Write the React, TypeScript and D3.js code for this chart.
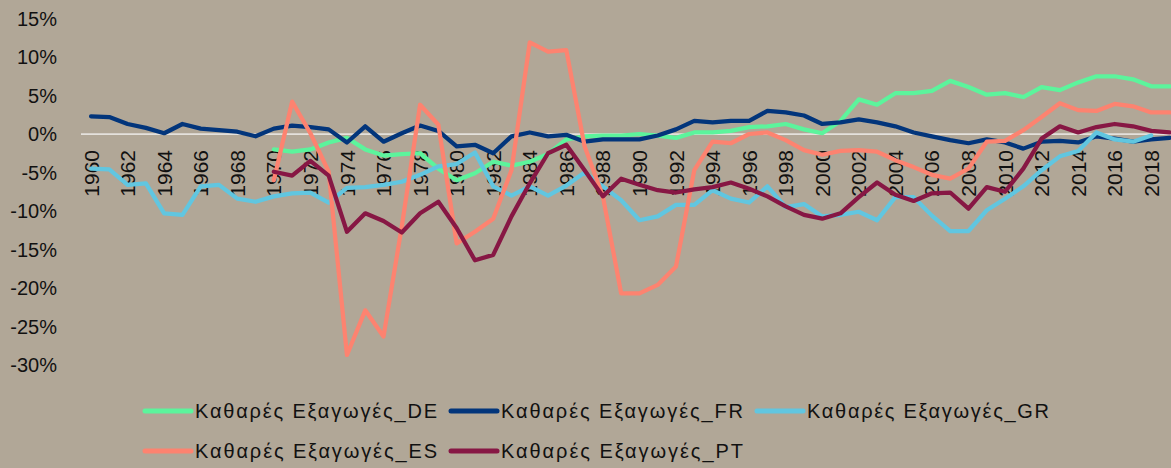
import * as d3 from 'd3';

// categories
const years: number[] = d3.range(1960, 2020);

// Καθαρές εξαγωγές (% του ΑΕΠ)
const deStart = 1970;
const deValues = [
  -2.0, -2.3, -2.0, -1.1, -0.5, -2.0, -2.8, -2.6, -2.5, -4.5,
  -6.0, -5.1, -3.6, -4.1, -3.6, -2.6, -0.7, -0.3, -0.2, -0.2,
  0.0, -0.2, -0.5, 0.2, 0.2, 0.4, 0.9, 1.0, 1.3, 0.6,
  0.1, 1.7, 4.5, 3.8, 5.3, 5.3, 5.6, 6.9, 6.1, 5.1,
  5.3, 4.8, 6.1, 5.7, 6.7, 7.5, 7.5, 7.1, 6.2, 6.2,
];

const frStart = 1960;
const frValues = [
  2.3, 2.2, 1.3, 0.8, 0.1, 1.3, 0.7, 0.5, 0.3, -0.3,
  0.7, 1.1, 0.9, 0.6, -1.1, 1.0, -1.0, 0.1, 1.1, 0.4,
  -1.6, -1.4, -2.5, -0.3, 0.2, -0.3, -0.1, -1.0, -0.7, -0.7,
  -0.7, -0.2, 0.6, 1.7, 1.5, 1.7, 1.7, 3.0, 2.8, 2.4,
  1.3, 1.5, 1.9, 1.5, 1.0, 0.2, -0.3, -0.8, -1.2, -0.7,
  -1.1, -1.9, -1.0, -0.9, -1.1, -0.3, -0.6, -1.0, -0.7, -0.5,
];

const grStart = 1960;
const grValues = [
  -4.5, -4.6, -6.6, -6.4, -10.3, -10.5, -6.8, -6.6, -8.4, -8.8,
  -8.1, -7.7, -7.6, -8.9, -7.0, -6.9, -6.6, -6.2, -5.3, -4.2,
  -3.9, -2.4, -6.8, -8.0, -6.8, -8.0, -6.7, -5.0, -6.8, -8.6,
  -11.2, -10.7, -9.2, -9.2, -7.3, -8.4, -8.9, -6.8, -9.5, -9.1,
  -10.7, -10.5, -10.1, -11.2, -8.2, -8.2, -10.6, -12.6, -12.6, -9.9,
  -8.4, -6.8, -4.7, -2.9, -2.2, 0.2, -0.7, -1.0, -0.2,
];

const esStart = 1970;
const esValues = [
  -6.0, 4.2, 0.1, -4.9, -28.7, -22.9, -26.3, -12.0, 3.8, 1.2,
  -14.2, -12.7, -11.0, -4.7, 11.9, 10.7, 10.9, -1.6, -8.1, -20.7,
  -20.7, -19.6, -17.2, -4.7, -1.0, -1.2, 0.0, 0.2, -0.8, -2.1,
  -2.7, -2.2, -2.1, -2.3, -3.4, -4.3, -5.3, -5.8, -4.5, -1.0,
  -0.9, 0.5, 2.2, 4.0, 3.1, 3.0, 3.9, 3.6, 2.8, 2.8,
];

const ptStart = 1970;
const ptValues = [
  -4.9, -5.4, -3.5, -5.4, -12.7, -10.3, -11.3, -12.8, -10.3, -8.8,
  -12.2, -16.4, -15.7, -10.7, -6.4, -2.5, -1.4, -4.7, -8.1, -5.8,
  -6.6, -7.3, -7.6, -7.2, -6.9, -6.3, -7.1, -8.1, -9.4, -10.5,
  -11.0, -10.3, -8.2, -6.3, -7.9, -8.7, -7.7, -7.6, -9.7, -6.9,
  -7.5, -4.5, -0.6, 1.0, 0.2, 0.9, 1.3, 1.0, 0.4, 0.2,
];

const yTicks = [15, 10, 5, 0, -5, -10, -15, -20, -25, -30];

const series = [
  { name: 'Καθαρές Εξαγωγές_DE', color: '#5cf49c', start: deStart, values: deValues },
  { name: 'Καθαρές Εξαγωγές_FR', color: '#02357b', start: frStart, values: frValues },
  { name: 'Καθαρές Εξαγωγές_GR', color: '#61c6e0', start: grStart, values: grValues },
  { name: 'Καθαρές Εξαγωγές_ES', color: '#fd8370', start: esStart, values: esValues },
  { name: 'Καθαρές Εξαγωγές_PT', color: '#871744', start: ptStart, values: ptValues },
];

const W = 1171;
const H = 468;
const BG = '#b1a797';
const TXT = '#111111';

export default function App() {
  const x = d3.scaleBand<number>().domain(years).range([81.9, 1178.7]).padding(0);
  const y = d3.scaleLinear().domain([-30, 15]).range([365, 18.5]);
  const cx = (yr: number) => (x(yr) ?? 0) + x.bandwidth() / 2;

  const line = (s: typeof series[number]) =>
    d3.line<number>()
      .x((_, i) => cx(s.start + i))
      .y(d => y(d))(s.values) ?? '';

  return (
    <svg width={W} height={H} style={{ position: 'absolute', left: 0, top: 0, display: 'block', background: BG }}>
      <rect x={0} y={0} width={W} height={H} fill={BG} />

      {/* y axis labels */}
      {yTicks.map(t => (
        <text key={t} x={57} y={y(t)} dy="0.35em" textAnchor="end"
          fontFamily="'Liberation Sans', Arial, sans-serif" fontSize={20} fill={TXT}>
          {`${t}%`}
        </text>
      ))}

      {/* zero line */}
      <line x1={81} x2={W} y1={y(0)} y2={y(0)} stroke="#e4e1dc" strokeWidth={1.75} />

      {/* x axis labels */}
      {years.filter(yr => (yr - 1960) % 2 === 0).map(yr => (
        <text key={yr} transform={`translate(${cx(yr)},150) rotate(-90)`} dy="0.36em" textAnchor="end"
          fontFamily="'Liberation Sans', Arial, sans-serif" fontSize={21} fill={TXT}>
          {yr}
        </text>
      ))}

      {/* lines */}
      {series.map(s => (
        <path key={s.name} d={line(s)} fill="none" stroke={s.color} strokeWidth={4.25}
          strokeLinejoin="round" strokeLinecap="round" />
      ))}

      {/* legend */}
      {series.map((s, i) => {
        const col = i < 3 ? i : i - 3;
        const row = i < 3 ? 0 : 1;
        const lx = 143 + col * 306;
        const ly = 411 + row * 40;
        return (
          <g key={s.name} transform={`translate(${lx},${ly})`}>
            <line x1={2} x2={48} y1={0} y2={0} stroke={s.color} strokeWidth={5} strokeLinecap="round" />
            <text x={52} y={0} dy="0.35em" fontFamily="'Liberation Sans', Arial, sans-serif" fontSize={20}
              fill={TXT} textLength={242} lengthAdjust="spacing">
              {s.name}
            </text>
          </g>
        );
      })}
    </svg>
  );
}
